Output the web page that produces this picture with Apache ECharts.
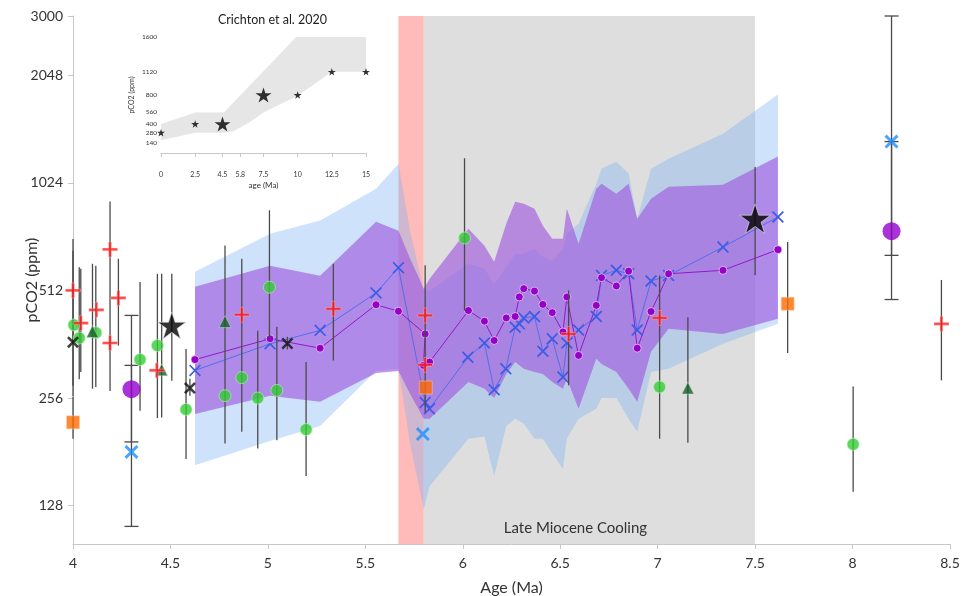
<!DOCTYPE html>
<html><head><meta charset="utf-8">
<script src="https://cdn.jsdelivr.net/npm/echarts@6/dist/echarts.min.js"></script>
<style>html,body{margin:0;padding:0;background:#fff}#c{width:970px;height:596px}</style>
</head><body><div id="c"></div>
<script>
// ---------- main chart data ----------
const xTicks = [4, 4.5, 5, 5.5, 6, 6.5, 7, 7.5, 8, 8.5];
const yTickLabels = [128, 256, 512, 1024, 2048, 3000];

// modelled bands
const bandAge   = [4.626,5.011,5.268,5.555,5.670,5.730,5.800,5.830,6.029,6.111,6.161,6.223,6.269,6.313,6.368,6.411,6.459,6.514,6.534,6.594,6.685,6.712,6.788,6.851,6.895,6.966,7.056,7.335,7.617];
const blueHi    = [578,738,803,986,1159,750,511,511,608,589,535,595,649,649,670,636,618,670,738,787,1019,1122,1174,1087,813,1122,1197,1406,1809];
const blueLo    = [166,194,214,305,309,190,125,145,197,200,155,214,224,217,197,197,179,162,197,224,239,256,256,224,206,303,309,363,413];
const purpleHi  = [524,600,563,797,752,628,518,552,762,683,616,787,907,895,867,777,715,715,867,692,986,1019,955,1019,813,925,999,1012,1213];
const purpleLo  = [231,260,250,301,305,263,224,224,284,272,256,299,323,309,303,299,284,272,290,239,330,319,303,272,250,345,400,387,427];

// purple line with dots
const dotAge = [4.626,5.011,5.268,5.555,5.670,5.807,5.798,5.830,6.029,6.111,6.161,6.223,6.269,6.290,6.313,6.368,6.411,6.459,6.514,6.534,6.594,6.685,6.712,6.788,6.851,6.895,6.966,7.056,7.335,7.617];
const dotCO2 = [328,375,353,467,448,387,316,323,450,420,371,429,433,491,518,510,468,444,392,491,337,465,556,527,580,353,447,570,583,666];

// blue line with crosses
const bxAge = [4.626,5.011,5.268,5.555,5.670,5.807,5.829,6.026,6.111,6.161,6.221,6.269,6.290,6.313,6.368,6.411,6.459,6.514,6.534,6.594,6.685,6.712,6.788,6.851,6.895,6.966,7.056,7.335,7.617];
const bxCO2 = [306,363,396,504,593,249,239,333,365,270,309,404,413,429,433,346,375,293,365,397,433,564,583,570,397,544,564,677,822];

// proxy points: age, pCO2, error low, error high (null = no own bar)
const plusAge = [4.00,4.04,4.12,4.19,4.19,4.233,4.43,4.866,5.336,5.807,5.807,6.543,7.01,8.456];
const plusCO2 = [512,415,452,667,365,488,306,438,455,436,317,387,429,413];
const plusLo  = [277,303,null,268,null,359,null,206,326,234,null,278,197,287];
const plusHi  = [661,589,null,908,null,628,null,628,608,602,null,512,563,548];

const greenAge = [4.005,4.032,4.117,4.344,4.433,4.58,4.78,4.866,4.948,5.008,5.046,5.196,6.009,7.01,8.003];
const greenCO2 = [410,377,390,328,359,238,260,292,256,523,269,209,718,275,190];
const greenLo  = [null,289,275,236,225,173,null,null,185,375,195,155,450,null,140];
const greenHi  = [null,595,600,541,570,351,null,null,395,858,405,323,1200,null,276];

const triAge = [4.10,4.455,4.78,7.155];
const triCO2 = [393,307,419,273];
const triLo  = [272,226,191,192];
const triHi  = [608,570,684,431];

const blackXAge = [4.00,4.60,5.10];
const blackXCO2 = [367,273,364];
const blackXLo  = [259,260,350];
const blackXHi  = [713,290,380];

const starAge = [4.507,7.50];
const starCO2 = [409,813];
const starLo  = [286,565];
const starHi  = [570,1135];

const orangeAge = [4.0,5.81,7.667];
const orangeCO2 = [219,274,470];
const orangeLo  = [197,null,342];
const orangeHi  = [258,null,700];

const bigPurpleAge = [4.30,8.20];
const bigPurpleCO2 = [271,750];
const bigPurpleLo  = [193,642];
const bigPurpleHi  = [436,1336];

const lbXAge = [4.30,5.795,8.20];
const lbXCO2 = [181,203,1336];
const lbXLo  = [112,null,483];
const lbXHi  = [316,null,3000];

// ---------- inset (Crichton et al. 2020) ----------
const insetXTicks = [0,2.5,4.5,5.8,7.5,10,12.5,15];
const insetYTicks = [140,280,400,560,800,1120,1600];
const insetStarAge = [0,2.5,4.5,7.5,10,12.5,15];
const insetStarCO2 = [280,400,400,800,800,1120,1120];
const insetStarBig = [0,0,1,1,0,0,0];
const insetUpAge  = [0,2.5,4.6,9.9,15];
const insetUp     = [400,560,560,1600,1600];
const insetLowAge = [0,2.5,4.6,5.3,6.5,7.5,10,12.5,15];
const insetLow    = [175,281,281,300,428,557,790,1120,1120];

// ---------- helpers ----------
const FONT = 'Lato';
const plusPath = 'path://M4.1,0H5.9V4.1H10V5.9H5.9V10H4.1V5.9H0V4.1H4.1Z';
const crossThick = 'path://M0,1.5L1.5,0L5,3.5L8.5,0L10,1.5L6.5,5L10,8.5L8.5,10L5,6.5L1.5,10L0,8.5L3.5,5Z';
const crossThin = 'path://M0,1L1,0L5,4L9,0L10,1L6,5L10,9L9,10L5,6L1,10L0,9L4,5Z';
const starPath = 'path://M50,0L61.23,34.55L97.55,34.55L68.17,55.9L79.39,90.45L50,69.1L20.61,90.45L31.83,55.9L2.45,34.55L38.77,34.55Z';

function zip(a, b) { return a.map((v, i) => [v, b[i]]); }

function bandPolygon(upAge, up, lowAge, low, fill, xi, yi, z) {
  const data = upAge.map((a, i) => [a, up[i]]).concat(lowAge.map((a, i) => [a, low[i]]));
  return {
    type: 'custom', xAxisIndex: xi, yAxisIndex: yi, z: z, silent: true,
    data: data, encode: { x: 0, y: 1 },
    renderItem: function (params, api) {
      if (params.dataIndex !== 0) return null;
      const pts = [];
      for (let i = 0; i < upAge.length; i++) pts.push(api.coord([upAge[i], up[i]]));
      for (let i = lowAge.length - 1; i >= 0; i--) pts.push(api.coord([lowAge[i], low[i]]));
      return { type: 'polygon', shape: { points: pts }, style: { fill: fill } };
    }
  };
}

// error bar table: [age, low, high, cap]
const errRows = [];
function addErr(ages, lo, hi, cap) {
  ages.forEach((a, i) => { if (lo[i] != null) errRows.push([a, lo[i], hi[i], cap ? 1 : 0]); });
}
addErr(plusAge, plusLo, plusHi, false);
addErr(greenAge, greenLo, greenHi, false);
addErr(triAge, triLo, triHi, false);
addErr(blackXAge, blackXLo, blackXHi, false);
addErr(starAge, starLo, starHi, false);
addErr(orangeAge, orangeLo, orangeHi, false);
addErr(bigPurpleAge, bigPurpleLo, bigPurpleHi, true);
addErr(lbXAge, lbXLo, lbXHi, true);

function scatter(name, ages, vals, symbol, size, itemStyle, z) {
  return { name: name, type: 'scatter', data: zip(ages, vals), symbol: symbol, symbolSize: size,
    symbolKeepAspect: true, itemStyle: itemStyle, z: z, silent: true, xAxisIndex: 0, yAxisIndex: 0, clip: false };
}

const chart = echarts.init(document.getElementById('c'), null, { renderer: 'canvas' });
const option = {
  animation: false,
  backgroundColor: '#ffffff',
  textStyle: { fontFamily: FONT },
  graphic: [{
    type: 'text', left: 218, top: 13, z: 100,
    style: { text: 'Crichton et al. 2020', fontFamily: FONT, fontSize: 12.5, fill: '#222' }
  }],
  grid: [
    { left: 73, top: 16, width: 877, height: 528, containLabel: false, outerBoundsMode: 'none' },
    { left: 161, top: 37, width: 205, height: 116, containLabel: false, outerBoundsMode: 'none', z: 20 }
  ],
  xAxis: [{
    type: 'value', min: 4, max: 8.5, interval: 0.5, gridIndex: 0,
    name: 'Age (Ma)', nameLocation: 'middle', nameGap: 36,
    nameTextStyle: { fontSize: 16, color: '#333', fontFamily: FONT },
    axisLine: { lineStyle: { color: '#c8c8c8' } },
    axisTick: { show: true, length: 5, lineStyle: { color: '#c8c8c8' } },
    axisLabel: { fontSize: 14, color: '#333', margin: 12, fontFamily: FONT },
    splitLine: { show: false }
  }, {
    type: 'value', min: 0, max: 15, gridIndex: 1,
    name: 'age (Ma)', nameLocation: 'middle', nameGap: 28, nameMoveOverlap: false,
    nameTextStyle: { fontSize: 8, color: '#333', fontFamily: FONT },
    axisLine: { lineStyle: { color: '#c8c8c8' } },
    axisTick: { show: true, length: 4, customValues: insetXTicks, lineStyle: { color: '#c8c8c8' } },
    axisLabel: { fontSize: 7, color: '#333', margin: 18, customValues: insetXTicks, fontFamily: FONT,
      formatter: function (v) { return String(v); } },
    splitLine: { show: false }
  }],
  yAxis: [{
    type: 'log', logBase: 2, min: 100, max: 3000, gridIndex: 0,
    name: 'pCO2 (ppm)', nameLocation: 'middle', nameGap: 33, nameRotate: 90, nameMoveOverlap: false,
    nameTextStyle: { fontSize: 16, color: '#333', fontFamily: FONT },
    axisLine: { show: true, lineStyle: { color: '#c8c8c8' } },
    axisTick: { show: true, length: 5, customValues: yTickLabels, lineStyle: { color: '#c8c8c8' } },
    axisLabel: { fontSize: 14, color: '#333', margin: 10, customValues: yTickLabels, fontFamily: FONT,
      formatter: function (v) { return String(Math.round(v)); } },
    splitLine: { show: false }
  }, {
    type: 'value', min: 0, max: 1600, gridIndex: 1,
    name: 'pCO2 (ppm)', nameLocation: 'middle', nameGap: 26, nameRotate: 90, nameMoveOverlap: false,
    nameTextStyle: { fontSize: 7, color: '#333', fontFamily: FONT },
    axisLine: { show: false },
    axisTick: { show: false },
    axisLabel: { fontSize: 6.5, color: '#333', margin: 4, customValues: insetYTicks, fontFamily: FONT,
      formatter: function (v) { return String(v); } },
    splitLine: { show: false }
  }],
  series: [
    { type: 'line', data: [[4, 100]], showSymbol: false, lineStyle: { opacity: 0 }, z: 0, silent: true,
      xAxisIndex: 0, yAxisIndex: 0,
      markArea: { silent: true, data: [
        [{ xAxis: 5.67, itemStyle: { color: '#ffbaba' } }, { xAxis: 5.8 }],
        [{ xAxis: 5.8, itemStyle: { color: '#dedede' },
           label: { show: true, position: 'insideBottom', offset: [-14, -3], formatter: 'Late Miocene Cooling',
                    fontSize: 15, color: '#333', fontFamily: FONT } }, { xAxis: 7.5 }]
      ] } },
    bandPolygon(bandAge, blueHi, bandAge, blueLo, 'rgba(118,178,244,0.36)', 0, 0, 1),
    bandPolygon(bandAge, purpleHi, bandAge, purpleLo, 'rgba(160,90,222,0.65)', 0, 0, 2),
    { type: 'line', data: zip(bxAge, bxCO2), xAxisIndex: 0, yAxisIndex: 0, z: 3, silent: true,
      lineStyle: { color: '#5070e8', width: 1 }, symbol: crossThin, symbolSize: 12,
      itemStyle: { color: '#3a5ce6' } },
    { type: 'line', data: zip(dotAge, dotCO2), xAxisIndex: 0, yAxisIndex: 0, z: 3, silent: true,
      lineStyle: { color: '#9418c8', width: 1 }, symbol: 'circle', symbolSize: 8,
      itemStyle: { color: '#9400c8', borderColor: '#e8d0f4', borderWidth: 0.8 } },
    { type: 'custom', xAxisIndex: 0, yAxisIndex: 0, z: 4, silent: true,
      data: errRows, encode: { x: 0, y: [1, 2] },
      renderItem: function (params, api) {
        const x = api.value(0), lo = api.value(1), hi = api.value(2), cap = api.value(3);
        const p1 = api.coord([x, lo]), p2 = api.coord([x, hi]);
        const st = { stroke: '#4a4a4a', lineWidth: 1.3 };
        const ch = [{ type: 'line', shape: { x1: p1[0], y1: p1[1], x2: p2[0], y2: p2[1] }, style: st }];
        if (cap) {
          ch.push({ type: 'line', shape: { x1: p1[0] - 7, y1: p1[1], x2: p1[0] + 7, y2: p1[1] }, style: st });
          ch.push({ type: 'line', shape: { x1: p2[0] - 7, y1: p2[1], x2: p2[0] + 7, y2: p2[1] }, style: st });
        }
        return { type: 'group', children: ch };
      } },
    scatter('green', greenAge, greenCO2, 'circle', 12, { color: '#33cc33', borderColor: '#b8f0b8', borderWidth: 0.8 }, 5),
    scatter('triangle', triAge, triCO2, 'triangle', 12, { color: '#17602a', borderColor: '#d0e8d0', borderWidth: 0.6 }, 5),
    scatter('orange', orangeAge, orangeCO2, 'rect', 13, { color: '#ff6a00', borderColor: '#ffd0b0', borderWidth: 0.6 }, 5),
    scatter('blackX', blackXAge, blackXCO2, crossThick, 12, { color: '#111' }, 5),
    scatter('bigPurple', bigPurpleAge, bigPurpleCO2, 'circle', 18, { color: '#9400cc' }, 5),
    scatter('lightBlueX', lbXAge, lbXCO2, crossThick, 14, { color: '#1e8fff' }, 5),
    scatter('plus', plusAge, plusCO2, plusPath, 15, { color: '#ff1a1a', borderColor: '#ffc0c0', borderWidth: 0.5 }, 6),
    { type: 'scatter', data: zip(starAge, starCO2), symbol: starPath, symbolKeepAspect: true,
      symbolSize: function (v, p) { return p.dataIndex === 0 ? 28 : 31; },
      itemStyle: { color: '#000', borderColor: '#e0e0e0', borderWidth: 0.8 }, z: 7, silent: true,
      xAxisIndex: 0, yAxisIndex: 0 },
    // inset
    bandPolygon(insetUpAge, insetUp, insetLowAge, insetLow, '#e6e6e6', 1, 1, 21),
    { type: 'scatter', data: insetStarAge.map((a, i) => [a, insetStarCO2[i], insetStarBig[i]]),
      xAxisIndex: 1, yAxisIndex: 1, z: 22, silent: true, symbol: starPath, symbolKeepAspect: true,
      symbolSize: function (v) { return v[2] ? 16 : 8; }, clip: false,
      itemStyle: { color: '#000' } }
  ]
};
chart.setOption(option);
</script>
</body></html>
